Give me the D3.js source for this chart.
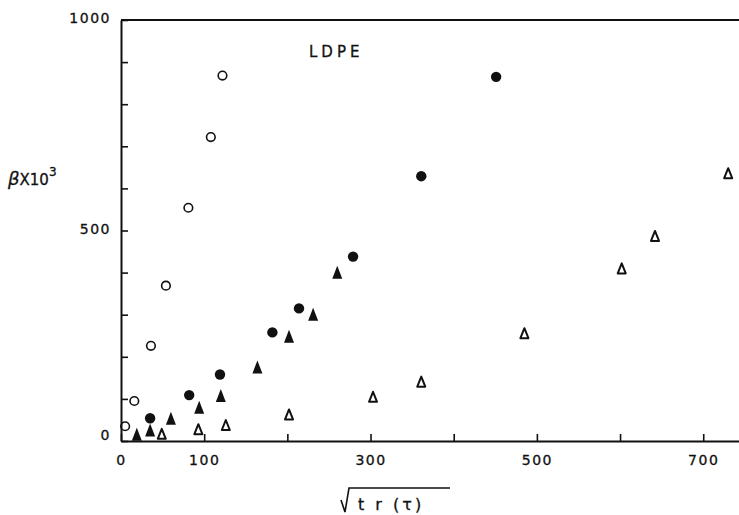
<!DOCTYPE html>
<html>
<head>
<meta charset="utf-8">
<script src="https://cdn.jsdelivr.net/npm/d3@7"></script>
<style>
  body { margin: 0; background: #fff; }
  text { font-family: "DejaVu Sans", sans-serif; fill: #111; stroke: #111; stroke-width: 0.3px; }
</style>
</head>
<body>
<div id="wrapper"></div>
<script>
// series: [sqrt(tr(tau)), beta x 10^3]
const openCircles = [[5, 35], [16, 95], [36, 226], [54, 369], [81, 554], [108, 722], [122, 868]];
const filledCircles = [[35, 54], [82, 109], [119, 158], [182, 258], [214, 315], [279, 438], [361, 629], [451, 865]];
const filledTriangles = [[19, 16], [35, 26], [60, 54], [94, 80], [120, 108], [164, 176], [202, 249], [231, 301], [260, 401]];
const openTriangles = [[49, 17], [93, 28], [126, 38], [202, 63], [303, 105], [361, 141], [485, 256], [602, 410], [642, 487], [730, 636]];

const xTicks = [0, 100, 200, 300, 400, 500, 600, 700];
const xTickLabels = ["0", "100", "", "300", "", "500", "", "700"];
const yTicks = [0, 100, 200, 300, 400, 500, 600, 700, 800, 900, 1000];
const yTickLabels = { 0: "0", 500: "500", 1000: "1000" };

const dimensions = {
    width: 739,
    height: 515,
    margin: { top: 20, right: 0, bottom: 74, left: 121 },
};
dimensions.boundedWidth = dimensions.width - dimensions.margin.left - dimensions.margin.right;
dimensions.boundedHeight = dimensions.height - dimensions.margin.top - dimensions.margin.bottom;

const svg = d3.select("#wrapper")
    .append("svg")
    .attr("width", dimensions.width)
    .attr("height", dimensions.height);

const xScale = d3.scaleLinear()
    .domain([0, 743])
    .range([dimensions.margin.left, dimensions.width]);

const yScale = d3.scaleLinear()
    .domain([0, 1000])
    .range([dimensions.margin.top + dimensions.boundedHeight, dimensions.margin.top]);

// x axis, ticks point inwards
const xAxis = svg.append("g")
    .attr("transform", `translate(0, ${yScale(0)})`)
    .call(d3.axisBottom(xScale)
        .tickValues(xTicks)
        .tickSizeInner(-7)
        .tickSizeOuter(0)
        .tickPadding(14)
        .tickFormat((d, i) => xTickLabels[i]));

// y axis
const yAxis = svg.append("g")
    .attr("transform", `translate(${xScale(0)}, 0)`)
    .call(d3.axisLeft(yScale)
        .tickValues(yTicks)
        .tickSizeInner(-7)
        .tickSizeOuter(0)
        .tickPadding(10)
        .tickFormat(d => yTickLabels[d] || ""));

[xAxis, yAxis].forEach(ax => {
    ax.select(".domain").attr("stroke", "#111").attr("stroke-width", 2);
    ax.selectAll(".tick line").attr("stroke", "#111").attr("stroke-width", 1.6);
    ax.selectAll(".tick text")
        .style("font-size", "14px")
        .style("letter-spacing", "1.5px")
        .attr("fill", "#111");
});
xAxis.selectAll(".tick text").attr("dy", "0.71em");
yAxis.selectAll(".tick text").attr("dy", d => d === 0 ? "-0.1em" : "0.2em");

// top frame line
svg.append("line")
    .attr("x1", xScale(0)).attr("x2", dimensions.width)
    .attr("y1", yScale(1000)).attr("y2", yScale(1000))
    .attr("stroke", "#111")
    .attr("stroke-width", 2);

const tri = (w, h) => `M0,${-h / 2}L${w / 2},${h / 2}L${-w / 2},${h / 2}Z`;

svg.append("g").selectAll("circle")
    .data(openCircles)
    .join("circle")
    .attr("cx", d => xScale(d[0]))
    .attr("cy", d => yScale(d[1]))
    .attr("r", 4.3)
    .attr("fill", "none")
    .attr("stroke", "#111")
    .attr("stroke-width", 1.6);

svg.append("g").selectAll("path")
    .data(filledTriangles)
    .join("path")
    .attr("transform", d => `translate(${xScale(d[0])}, ${yScale(d[1])})`)
    .attr("d", tri(10, 13))
    .attr("fill", "#111");

svg.append("g").selectAll("circle")
    .data(filledCircles)
    .join("circle")
    .attr("cx", d => xScale(d[0]))
    .attr("cy", d => yScale(d[1]))
    .attr("r", 5.2)
    .attr("fill", "#111");

svg.append("g").selectAll("path")
    .data(openTriangles)
    .join("path")
    .attr("transform", d => `translate(${xScale(d[0])}, ${yScale(d[1])})`)
    .attr("d", tri(8, 10))
    .attr("fill", "none")
    .attr("stroke", "#111")
    .attr("stroke-width", 2)
    .attr("stroke-linejoin", "round");

// LDPE tag
svg.append("text")
    .attr("x", 309)
    .attr("y", 57)
    .style("font-size", "15px")
    .style("letter-spacing", "4px")
    .text("LDPE");

// y label  βX10³
const yLab = svg.append("text")
    .attr("x", 8)
    .attr("y", 185)
    .style("font-size", "18px");
yLab.append("tspan").style("font-style", "italic").text("β");
yLab.append("tspan").style("font-size", "15px").text("X10");
yLab.append("tspan").attr("dy", -9).style("font-size", "12px").text("3");

// x label  √ tr(τ)
svg.append("path")
    .attr("d", "M341,500 L345,512 L349,488 L450,488")
    .attr("fill", "none")
    .attr("stroke", "#111")
    .attr("stroke-width", 1.6);
svg.append("text")
    .attr("x", 358)
    .attr("y", 510)
    .style("font-size", "16px")
    .style("letter-spacing", "3px")
    .text("t r (τ)");
</script>
</body>
</html>
